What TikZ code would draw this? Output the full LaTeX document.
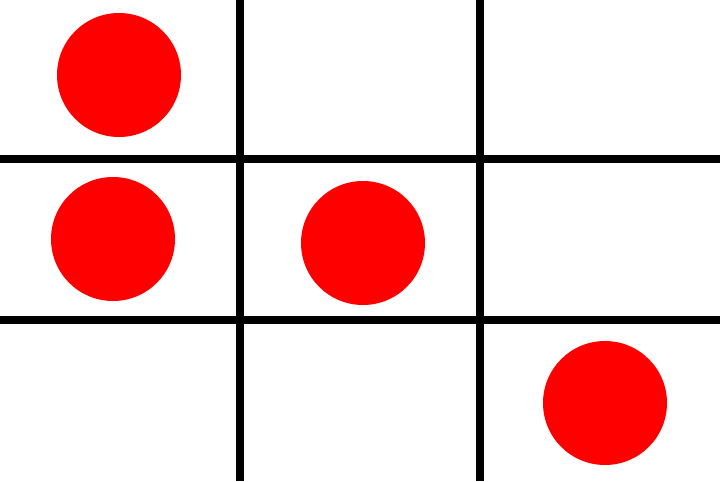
\documentclass[tikz,border=0pt]{standalone}
\usepackage{xcolor}
\usepackage{tikz}
\definecolor{gridInk}{HTML}{000000}
\definecolor{dotRed}{HTML}{FF0000}
\tikzset{
  grid diagram/.style={line cap=butt},
  grid line/.style={draw=gridInk, line width=0.2cm},
  grid dot/.style={circle, fill=dotRed, draw=none, minimum size=3.1cm, inner sep=0pt}
}
\begin{document}
\begin{tikzpicture}[grid diagram]
\useasboundingbox[fill=white] (0,0) rectangle (18,12.025);
% grid
\draw[grid line] (6,0) -- (6,12.025);
\draw[grid line] (12,0) -- (12,12.025);
\draw[grid line] (0,8.05) -- (18,8.05);
\draw[grid line] (0,4.025) -- (18,4.025);
% dots
\node[grid dot] (d1) at (2.975,10.15) {};
\node[grid dot] (d2) at (2.825,6.05) {};
\node[grid dot] (d3) at (9.075,5.95) {};
\node[grid dot] (d4) at (15.125,1.95) {};
\end{tikzpicture}
\end{document}
